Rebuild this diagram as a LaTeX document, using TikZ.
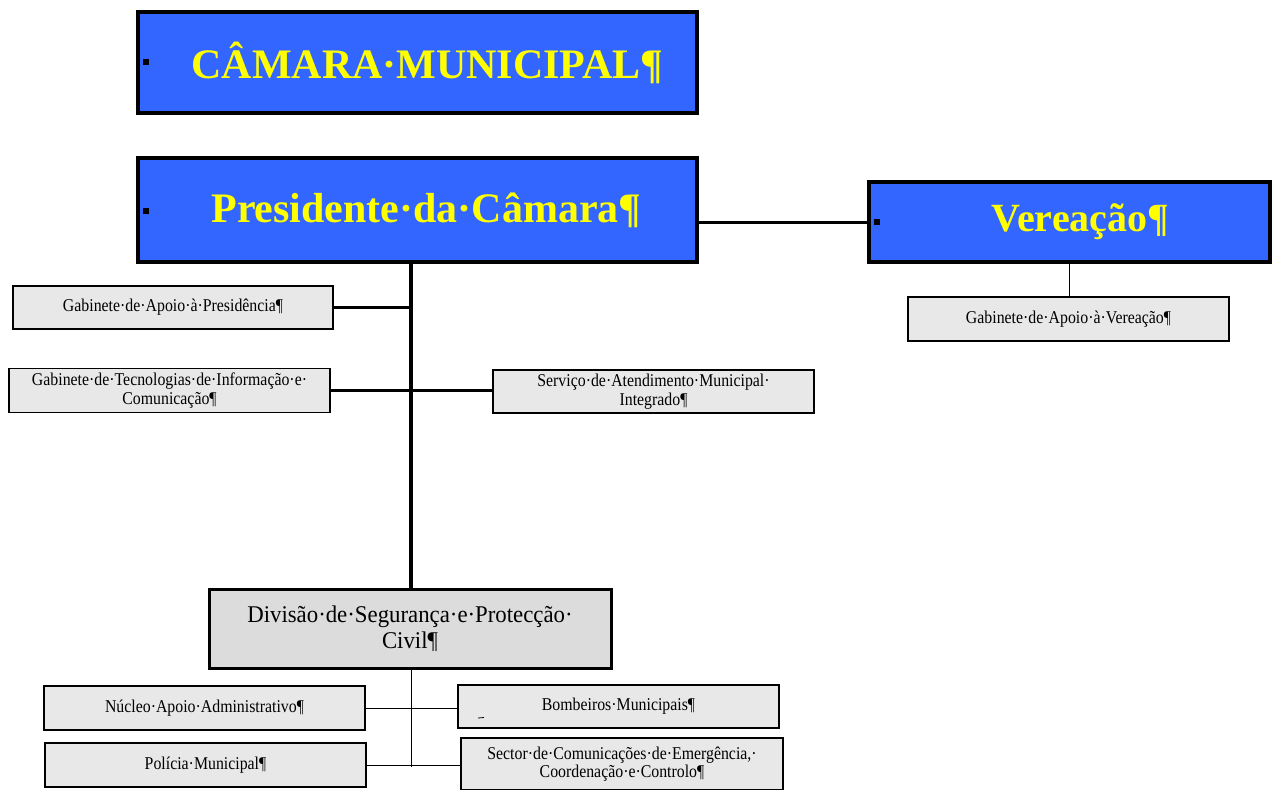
\documentclass[tikz,border=0pt]{standalone}
\usepackage{fontspec}
\setmainfont{Liberation Serif}
\newfontfamily\unitfont[FakeStretch=0.88]{Liberation Serif}
\newfontfamily\divfont[FakeStretch=0.95]{Liberation Serif}
\definecolor{headblue}{HTML}{3366FF}
\definecolor{headyellow}{HTML}{FFFF00}
\definecolor{unitgrey}{HTML}{E8E8E8}
\definecolor{divgrey}{HTML}{DCDCDC}
\begin{document}
\begin{tikzpicture}[x=1pt,y=-1pt,
  headbox/.style={draw=black,line width=4pt,fill=headblue,text=headyellow,
    inner sep=0pt,font=\fontsize{42}{46}\selectfont\bfseries},
  unitbox/.style={draw=black,line width=1.5pt,fill=unitgrey,inner sep=0pt,
    align=center,font=\unitfont\fontsize{18}{18.5}\selectfont},
  divbox/.style={draw=black,line width=3pt,fill=divgrey,inner sep=0pt,
    align=center,font=\divfont\fontsize{24}{26}\selectfont},
  bullet/.style={fill=black,minimum size=6pt,inner sep=0pt},
  trunkline/.style={line width=4pt},
  thickline/.style={line width=3pt},
  thinline/.style={line width=1pt}]
\useasboundingbox (0,0) rectangle (1273,789);

% top-level bodies
\node[headbox,minimum width=559pt,minimum height=101pt] (cam) at (417.5,62.5)
  {\hspace*{20pt}CÂMARA·MUNICIPAL¶};
\node[headbox,minimum width=559pt,minimum height=104pt] (pres) at (417.5,210)
  {\hspace*{18pt}Presidente·da·Câmara¶};
\node[headbox,line width=3.5pt,minimum width=401pt,minimum height=80pt,
  font=\fontsize{40}{44}\selectfont\bfseries] (ver) at (1069.5,222)
  {\hspace*{22pt}\raisebox{3pt}{Vereação¶}};
\node[bullet] (b1) at (146,62) {};
\node[bullet] (b2) at (146,211) {};
\node[bullet] (b3) at (877,222) {};

% units under the president
\node[unitbox,minimum width=320pt,minimum height=43pt] (gap) at (173,307.5)
  {Gabinete·de·Apoio·à·Presidência¶};
\node[unitbox,minimum width=321pt,minimum height=44pt] (gti) at (169.5,390.5)
  {Gabinete·de·Tecnologias·de·Informação·e·\\Comunicação¶};
\node[unitbox,minimum width=321pt,minimum height=43pt] (sam) at (653.5,391.5)
  {Serviço·de·Atendimento·Municipal·\\Integrado¶};
\node[unitbox,minimum width=321pt,minimum height=44pt] (gav) at (1068.5,319)
  {Gabinete·de·Apoio·à·Vereação¶};

% civil protection division
\node[divbox,minimum width=402pt,minimum height=79pt] (div) at (410,628.5)
  {Divisão·de·Segurança·e·Protecção·\\Civil¶};
\node[unitbox,minimum width=321pt,minimum height=44pt] (nuc) at (204.5,708)
  {Núcleo·Apoio·Administrativo¶};
\node[unitbox,minimum width=321pt,minimum height=43pt] (bom) at (618.5,706.5)
  {\raisebox{4pt}{Bombeiros·Municipais¶}};
\node[unitbox,minimum width=321pt,minimum height=44pt] (pol) at (205.5,765)
  {Polícia·Municipal¶};
\node[unitbox,minimum width=322pt,minimum height=52pt] (sec) at (622,764)
  {Sector·de·Comunicações·de·Emergência,·\\Coordenação·e·Controlo¶};
\draw[line width=0.8pt] (478,718) -- (484,717.5);

% connectors
\coordinate (trunk) at (411,262);
\coordinate (dbot) at (411,767);
\draw[trunkline] (trunk) -- (trunk |- div.north);
\draw[thickline] (ver.west -| pres.east) -- (ver.west);
\draw[thinline] (ver.south) -- (ver.south |- gav.north);
\draw[thickline] (gap.east) -- (gap.east -| trunk);
\draw[thickline] (gti.east) -- (gti.east -| sam.west);
\draw[thinline] (div.south -| trunk) -- (dbot);
\draw[thinline] (nuc.east) -- (nuc.east -| bom.west);
\draw[thinline] (pol.east) -- (pol.east -| sec.west);
\end{tikzpicture}
\end{document}
